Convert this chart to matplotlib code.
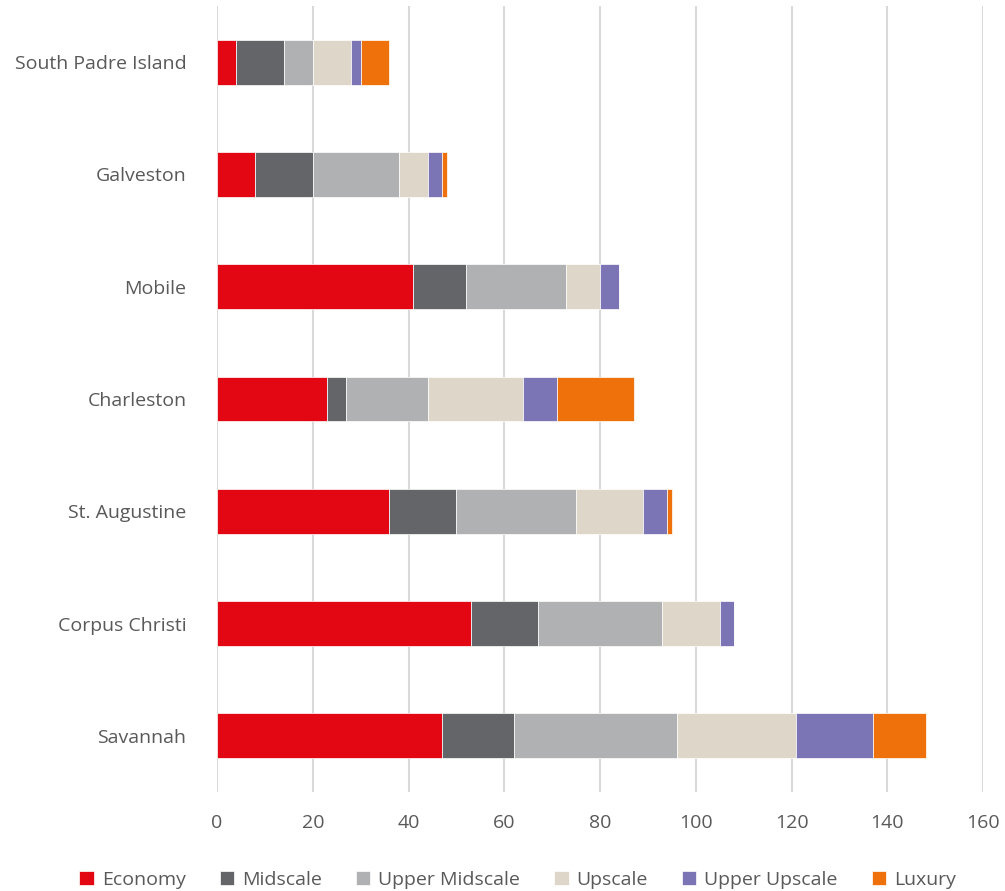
import matplotlib.pyplot as plt
import numpy as np

# Hotel room supply by market and chain scale
cities = ['South Padre Island', 'Galveston', 'Mobile', 'Charleston',
          'St. Augustine', 'Corpus Christi', 'Savannah']
scales = ['Economy', 'Midscale', 'Upper Midscale', 'Upscale', 'Upper Upscale', 'Luxury']

economy = [4, 8, 41, 23, 36, 53, 47]
midscale = [10, 12, 11, 4, 14, 14, 15]
upper_midscale = [6, 18, 21, 17, 25, 26, 34]
upscale = [8, 6, 7, 20, 14, 12, 25]
upper_upscale = [2, 3, 4, 7, 5, 3, 16]
luxury = [6, 1, 0, 16, 1, 0, 11]

series = [economy, midscale, upper_midscale, upscale, upper_upscale, luxury]
colors = ['#E30613', '#636569', '#B0B1B3', '#DDD6C9', '#7B75B5', '#EE710C']
text_color = '#595959'

plt.rcParams['font.family'] = ['Open Sans', 'DejaVu Sans']

fig = plt.figure(figsize=(10.05, 8.91), dpi=100)
ax = fig.add_axes([217 / 1005, 1 - 792 / 891, 766 / 1005, 786 / 891])

y = np.arange(len(cities))
left = np.zeros(len(cities))
for name, vals, col in zip(scales, series, colors):
    ax.barh(y, vals, left=left, height=0.4, color=col, label=name,
            edgecolor='white', linewidth=0.5, zorder=3)
    left += np.array(vals)

ax.set_xlim(0, 160)
ax.set_ylim(len(cities) - 0.5, -0.5)
ax.set_xticks(range(0, 161, 20))
ax.set_yticks(y)
ax.set_yticklabels(cities)
ax.xaxis.grid(True, color='#D9D9D9', linewidth=1.5, zorder=0)
for s in ax.spines.values():
    s.set_visible(False)
ax.tick_params(axis='both', length=0, labelsize=14, colors=text_color)
ax.tick_params(axis='x', pad=16)
ax.tick_params(axis='y', pad=22)

fig.legend(loc='lower center', bbox_to_anchor=(0.515, -0.017), ncol=6, frameon=False,
           fontsize=14, labelcolor=text_color, handlelength=0.75, handleheight=0.75,
           handletextpad=0.4, columnspacing=1.75)

fig.savefig('out.png', dpi=100)
